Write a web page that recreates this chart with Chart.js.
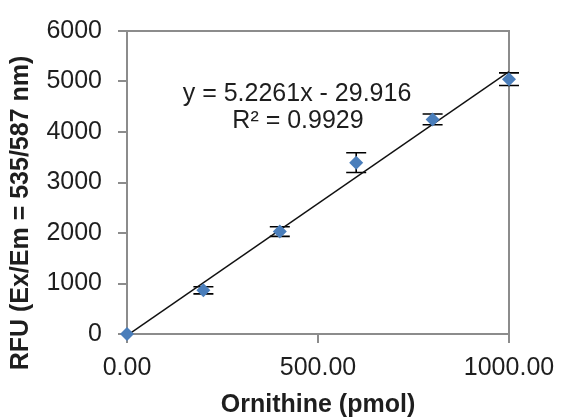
<!DOCTYPE html>
<html>
<head>
<meta charset="utf-8">
<script src="https://cdn.jsdelivr.net/npm/chart.js@4"></script>
<style>
html,body{margin:0;padding:0;background:#fff;}
#wrap{width:561px;height:420px;}
</style>
</head>
<body>
<div id="wrap"><canvas id="c" width="561" height="420"></canvas></div>
<script>
const ornithine = [0, 200, 400, 600, 800, 1000];
const rfu = [0, 865, 2028, 3393, 4250, 5045];
const rfuError = [0, 70, 95, 195, 105, 125];
const slope = 5.2261;
const intercept = -29.916;
const equationText = 'y = 5.2261x - 29.916';
const r2Text = 'R² = 0.9929';
const xTitle = 'Ornithine (pmol)';
const yTitle = 'RFU (Ex/Em = 535/587 nm)';
const xTicks = [0, 500, 1000];
const yTicks = [0, 1000, 2000, 3000, 4000, 5000, 6000];

const axisGray = '#8c8c8c';
const textColor = '#1e1e1e';
const FONT = "'Liberation Sans', Arial, sans-serif";

const points = ornithine.map((x, i) => ({x: x, y: rfu[i]}));
const trend = [
  {x: ornithine[0], y: slope * ornithine[0] + intercept},
  {x: ornithine[ornithine.length - 1], y: slope * ornithine[ornithine.length - 1] + intercept}
];

const extras = {
  id: 'extras',
  beforeDatasetsDraw(chart) {
    const ctx = chart.ctx, xs = chart.scales.x, ys = chart.scales.y, a = chart.chartArea;
    ctx.save();
    ctx.strokeStyle = axisGray;
    ctx.lineWidth = 2;
    ctx.beginPath();
    ctx.moveTo(a.left, a.top);
    ctx.lineTo(a.right, a.top);
    ctx.lineTo(a.right, a.bottom);
    ctx.stroke();
    ctx.strokeStyle = '#000';
    ctx.lineWidth = 1.6;
    ornithine.forEach((x, i) => {
      if (!rfuError[i]) return;
      const px = xs.getPixelForValue(x);
      const top = ys.getPixelForValue(rfu[i] + rfuError[i]);
      const bot = ys.getPixelForValue(rfu[i] - rfuError[i]);
      ctx.beginPath();
      ctx.moveTo(px, top); ctx.lineTo(px, bot);
      ctx.moveTo(px - 10, top); ctx.lineTo(px + 10, top);
      ctx.moveTo(px - 10, bot); ctx.lineTo(px + 10, bot);
      ctx.stroke();
    });
    ctx.restore();
  },
  afterDraw(chart) {
    const ctx = chart.ctx;
    ctx.save();
    ctx.fillStyle = textColor;
    ctx.font = '25px ' + FONT;
    ctx.textAlign = 'center';
    ctx.textBaseline = 'middle';
    ctx.fillText(equationText, 297, 94);
    ctx.fillText(r2Text, 298, 121);
    ctx.font = 'bold 25px ' + FONT;
    ctx.translate(21, 213);
    ctx.rotate(-Math.PI / 2);
    ctx.fillText(yTitle, 0, 0);
    ctx.restore();
  }
};

new Chart(document.getElementById('c'), {
  type: 'scatter',
  data: {
    datasets: [
      {
        type: 'line',
        data: trend,
        borderColor: '#111',
        borderWidth: 1.5,
        pointRadius: 0,
        fill: false,
        order: 2
      },
      {
        type: 'scatter',
        data: points,
        clip: false,
        pointStyle: 'rectRot',
        pointRadius: 7,
        pointHoverRadius: 7,
        backgroundColor: '#4a7ebb',
        borderColor: '#4a7ebb',
        borderWidth: 0,
        order: 1
      }
    ]
  },
  options: {
    responsive: false,
    animation: false,
    events: [],
    layout: {padding: {left: 0, right: 52, top: 24, bottom: 0}},
    plugins: {legend: {display: false}, tooltip: {enabled: false}},
    scales: {
      x: {
        type: 'linear',
        min: 0, max: 1000,
        afterBuildTicks: s => { s.ticks = xTicks.map(v => ({value: v})); },
        afterFit: s => { s.height = 86; s.paddingRight = 0; s.paddingLeft = 0; },
        ticks: {
          callback: v => Number(v).toFixed(2),
          color: textColor,
          font: {family: FONT, size: 25},
          padding: 10,
          maxRotation: 0
        },
        grid: {drawOnChartArea: false, drawTicks: true, tickLength: 9, color: axisGray, lineWidth: 2},
        border: {display: true, color: axisGray, width: 2},
        title: {display: true, text: xTitle, color: textColor, font: {family: FONT, size: 25, weight: 'bold'}, padding: 0}
      },
      y: {
        type: 'linear',
        min: 0, max: 6000,
        afterBuildTicks: s => { s.ticks = yTicks.map(v => ({value: v})); },
        afterFit: s => { s.width = 127; },
        ticks: {
          callback: v => String(v),
          color: textColor,
          font: {family: FONT, size: 25},
          padding: 16
        },
        grid: {drawOnChartArea: false, drawTicks: true, tickLength: 9, color: axisGray, lineWidth: 2},
        border: {display: true, color: axisGray, width: 2},
        title: {display: false}
      }
    }
  },
  plugins: [extras]
});
</script>
</body>
</html>
